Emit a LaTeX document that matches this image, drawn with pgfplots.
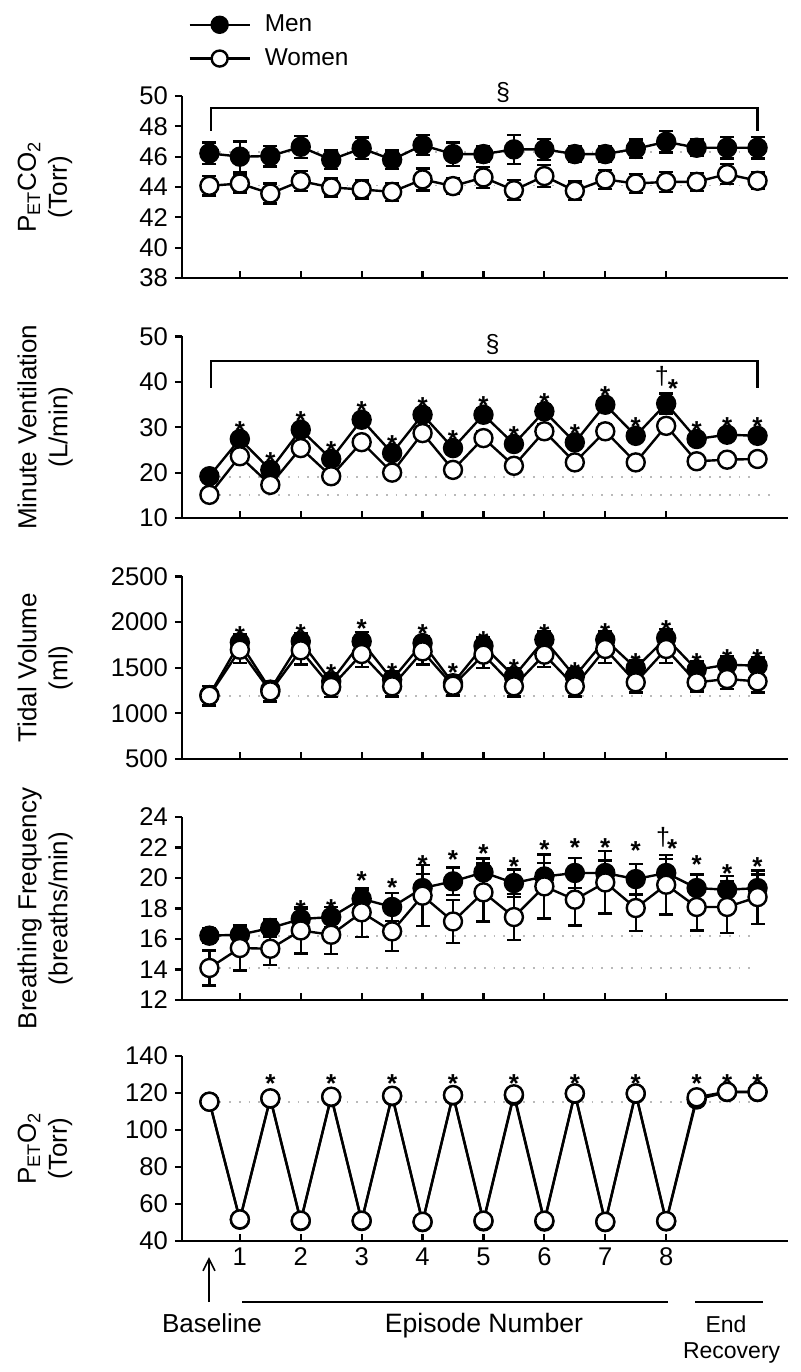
\documentclass[border=0pt]{standalone}
\usepackage{fontspec}
\setmainfont{Liberation Sans}
\usepackage{pgfplots}
\usepackage{pgfplotstable}
\pgfplotsset{compat=1.18}
\usetikzlibrary{arrows.meta}

\pgfplotstableread{
x m me w we
0.5 46.22 0.72 44.08 0.63
1 46.00 1.00 44.23 0.60
1.5 46.04 0.68 43.57 0.66
2 46.65 0.72 44.39 0.66
2.5 45.80 0.60 43.97 0.60
3 46.55 0.72 43.84 0.60
3.5 45.80 0.60 43.68 0.60
4 46.76 0.66 44.50 0.72
4.5 46.17 0.77 44.06 0.50
5 46.17 0.50 44.63 0.68
5.5 46.48 0.96 43.79 0.66
6 46.48 0.68 44.72 0.72
6.5 46.17 0.50 43.75 0.60
7 46.17 0.50 44.50 0.63
7.5 46.52 0.60 44.23 0.64
8 46.98 0.70 44.34 0.66
8.5 46.59 0.55 44.34 0.60
9 46.59 0.70 44.85 0.66
9.5 46.59 0.70 44.41 0.55
}\petco

\pgfplotstableread{
x m me w we
0.5 19.20 1.0 15.10 1.0
1 27.40 1.3 23.60 1.3
1.5 20.60 1.2 17.30 1.2
2 29.45 1.3 25.40 1.3
2.5 23.00 1.2 19.20 1.0
3 31.65 1.4 26.70 1.4
3.5 24.30 1.2 20.00 1.0
4 32.75 1.5 28.70 1.5
4.5 25.40 1.2 20.60 1.0
5 32.75 1.5 27.60 1.5
5.5 26.30 1.2 21.50 1.0
6 33.50 1.5 29.10 1.5
6.5 26.65 1.2 22.25 1.0
7 34.95 1.5 29.10 1.5
7.5 28.10 1.2 22.25 1.0
8 35.20 2.2 30.30 1.5
8.5 27.40 1.2 22.50 1.0
9 28.35 1.2 22.85 1.0
9.5 28.10 1.2 23.00 1.0
}\vetab

\pgfplotstableread{
x m me w we
0.5 1200 100 1194 110
1 1777 90 1697 145
1.5 1260 90 1241 110
2 1788 90 1690 157
2.5 1350 90 1289 110
3 1788 100 1650 142
3.5 1369 90 1296 110
4 1770 80 1679 146
4.5 1330 90 1303 109
5 1740 90 1643 146
5.5 1405 90 1296 110
6 1807 90 1643 135
6.5 1405 90 1296 110
7 1807 90 1705 153
7.5 1497 90 1340 110
8 1825 100 1705 153
8.5 1478 90 1340 99
9 1533 90 1376 109
9.5 1522 90 1350 120
}\vttab

\pgfplotstableread{
x m me w we
0.5 16.22 0.50 14.10 1.16
1 16.28 0.60 15.41 1.47
1.5 16.72 0.55 15.36 1.05
2 17.31 0.70 16.56 1.50
2.5 17.44 0.66 16.28 1.25
3 18.64 0.60 17.75 1.60
3.5 18.10 0.90 16.50 1.30
4 19.34 0.92 18.84 2.00
4.5 19.78 0.90 17.15 1.40
5 20.37 0.90 19.06 1.90
5.5 19.67 0.90 17.44 1.50
6 20.10 0.90 19.45 2.10
6.5 20.33 1.00 18.58 1.70
7 20.33 0.83 19.71 2.05
7.5 19.93 1.00 18.03 1.50
8 20.33 0.90 19.56 1.96
8.5 19.34 0.90 18.10 1.54
9 19.23 0.90 18.10 1.70
9.5 19.34 0.90 18.75 1.75
}\brftab

\pgfplotstableread{
x m w
0.5 115.3 115.3
1 51.5 51.7
1.5 117.0 117.1
2 50.8 51.0
2.5 117.8 118.0
3 50.8 51.0
3.5 118.3 118.5
4 50.2 50.4
4.5 118.7 118.9
5 50.6 51.0
5.5 118.6 119.3
6 50.5 51.0
6.5 119.6 119.8
7 50.2 50.4
7.5 119.6 119.8
8 50.6 50.8
8.5 116.5 117.7
9 120.5 120.7
9.5 120.5 120.7
}\petotab

\tikzset{
  sym/.style={font=\fontsize{12.5}{14}\selectfont, inner sep=0pt},
  astx/.style={font=\fontsize{13}{14}\selectfont\bfseries, inner sep=0pt, anchor=base, yshift=-7.5pt},
}
\pgfplotsset{
  panel/.style={scale only axis, width=303pt, xmin=0.05, xmax=10, clip=false,
    axis lines=left, axis line style={-, line width=1.25pt, black},
    xtick={1,2,...,8}, xticklabels={},
    tick style={line width=1.1pt, black},
    major tick length=3.5pt,
    xtick align=inside, ytick align=outside,
    tick label style={font=\fontsize{12.8}{14}\selectfont},
    /pgf/number format/assume math mode=true,
    /pgf/number format/1000 sep={},
    ylabel style={at={(axis description cs:-0.226,0.5)}, anchor=center, align=center, font=\fontsize{13}{15.5}\selectfont},
  },
  men/.style={black, line width=1.2pt, mark=*, mark size=4.5pt, mark options={fill=black, solid},
    error bars/y dir=both, error bars/y explicit,
    error bars/error bar style={line width=1.1pt, solid},
    error bars/error mark options={rotate=90, mark size=3.5pt, line width=1.2pt}},
  women/.style={men, mark options={fill=white, solid}},
  refl/.style={forget plot, gray!55, line width=0.9pt, dash pattern=on 0.9pt off 4pt},
  stars/.style={forget plot, only marks, mark=text, text mark={\fontsize{13}{14}\selectfont\bfseries *},
    text mark style={base, y=-7.5pt}},
}

\begin{document}
\begin{tikzpicture}
\path (0,0) rectangle (400pt,-686pt);

% Panel 1
\begin{axis}[panel, at={(91pt,-139pt)}, anchor=south west, height=91pt,
  ymin=38, ymax=50, ytick={38,40,...,50},
  ylabel={P\textsubscript{ET}CO\textsubscript{2}\\(Torr)},
  legend style={at={(axis description cs:0.01,1.459)}, anchor=north west, draw=none, fill=none,
    font=\fontsize{12.2}{14}\selectfont, row sep=5pt, inner sep=0pt, nodes={inner sep=1pt},
    /tikz/every odd column/.append style={column sep=6pt}},
  legend cell align=left,
  legend image code/.code={\draw[mark repeat=2, mark phase=2, #1, mark size=4pt] plot coordinates {(0pt,0pt) (15pt,0pt) (30pt,0pt)};},
]
\addplot[refl] coordinates {(0.5,46.3) (9.5,46.3)};
\addplot[refl] coordinates {(0.5,44.1) (9.5,44.1)};
\addplot[men] table[x=x, y=m, y error=me] {\petco};
\addplot[women] table[x=x, y=w, y error=we] {\petco};
\legend{Men, Women}
\draw[line width=1.1pt] (axis cs:0.53,47.7) -- (axis cs:0.53,49.2) -- (axis cs:9.5,49.2) -- (axis cs:9.5,47.7);
\node[sym] at (axis cs:5.32,50.26) {§};
\end{axis}

% Panel 2
\begin{axis}[panel, at={(91pt,-259pt)}, anchor=south west, height=90.8pt,
  ymin=10, ymax=50, ytick={10,20,...,50},
  ylabel={Minute Ventilation\\(L/min)},
]
\addplot[refl] coordinates {(0.5,19) (9.5,19)};
\addplot[refl] coordinates {(0.5,15) (9.7,15)};
\addplot[men] table[x=x, y=m, y error=me] {\vetab};
\addplot[women] table[x=x, y=w, y error=we] {\vetab};
\addplot[stars] coordinates {(1,30.7) (1.5,23.7) (2,32.75) (2.5,26.3) (3,34.95) (3.5,27.6) (4,35.8) (4.5,28.6) (5,36.0) (5.5,29.6) (6,36.8) (6.5,29.95) (7,38.25) (7.5,31.4) (8.5,30.6) (9,31.5) (9.5,31.5)};
\node[astx] at (axis cs:8.11,39.87) {*};
\node[sym] at (axis cs:7.93,41.19) {†};
\draw[line width=1.1pt] (axis cs:0.53,38.7) -- (axis cs:0.53,44.5) -- (axis cs:9.5,44.5) -- (axis cs:9.5,38.7);
\node[sym] at (axis cs:5.15,48.2) {§};
\end{axis}

% Panel 3
\begin{axis}[panel, at={(91pt,-379.5pt)}, anchor=south west, height=91.3pt,
  ymin=500, ymax=2500, ytick={500,1000,...,2500},
  ylabel={Tidal Volume\\(ml)},
]
\addplot[refl] coordinates {(0.5,1194) (9.5,1194)};
\addplot[men, error bars/y dir=plus] table[x=x, y=m, y error=me] {\vttab};
\addplot[women, error bars/y dir=minus] table[x=x, y=w, y error=we] {\vttab};
\addplot[stars] coordinates {(1,1916) (2,1935) (2.5,1497) (3,1990) (3.5,1515) (4,1935) (4.5,1508) (5,1862) (5.5,1559) (6,1935) (6.5,1522) (7,1953) (7.5,1624) (8,1982) (8.5,1624) (9,1668) (9.5,1668)};
\end{axis}

% Panel 4
\begin{axis}[panel, at={(91pt,-500pt)}, anchor=south west, height=91.5pt,
  ymin=12, ymax=24, ytick={12,14,...,24},
  ylabel={Breathing Frequency\\(breaths/min)},
]
\addplot[refl] coordinates {(0.5,16.2) (9.5,16.2)};
\addplot[refl] coordinates {(0.5,14.1) (9.5,14.1)};
\addplot[men] table[x=x, y=m, y error=me] {\brftab};
\addplot[women] table[x=x, y=w, y error=we] {\brftab};
\addplot[stars] coordinates {(2,18.36) (2.5,18.4) (3,20.22) (3.5,19.78) (4,21.31) (4.5,21.64) (5,22.03) (5.5,21.15) (6,22.25) (6.5,22.4) (7,22.4) (7.5,22.18) (8.5,21.25) (9,20.66) (9.5,21.15)};
\node[astx] at (axis cs:8.1,22.3) {*};
\node[sym] at (axis cs:7.95,22.64) {†};
\end{axis}

% Panel 5
\begin{axis}[panel, at={(91pt,-620.5pt)}, anchor=south west, height=92.5pt,
  ymin=40, ymax=140, ytick={40,60,...,140},
  xticklabels={1,2,3,4,5,6,7,8},
  ylabel={P\textsubscript{ET}O\textsubscript{2}\\(Torr)},
]
\addplot[refl] coordinates {(0.5,115) (9.5,115)};
\addplot[men, error bars/y dir=none] table[x=x, y=m] {\petotab};
\addplot[women, error bars/y dir=none] table[x=x, y=w] {\petotab};
\addplot[stars] coordinates {(1.5,128.5) (2.5,128.5) (3.5,128.5) (4.5,128.5) (5.5,128.5) (6.5,128.5) (7.5,128.5) (8.5,128.5) (9,128.5) (9.5,128.5)};
\end{axis}

% bottom annotations
\draw[line width=0.8pt, -{Straight Barb[length=6pt, width=6pt]}] (104.5pt,-651pt) -- (104.5pt,-628.5pt);
\node[anchor=base, font=\fontsize{13}{15}\selectfont] at (106pt,-666pt) {Baseline};
\draw[line width=1.1pt] (121pt,-651pt) -- (334pt,-651pt);
\node[anchor=base, font=\fontsize{13.3}{15}\selectfont] at (242pt,-666pt) {Episode Number};
\draw[line width=1.1pt] (347.5pt,-651pt) -- (381.5pt,-651pt);
\node[anchor=base, font=\fontsize{11.5}{13}\selectfont] at (363pt,-666pt) {End};
\node[anchor=base, font=\fontsize{11.5}{13}\selectfont] at (365.8pt,-679.2pt) {Recovery};
\end{tikzpicture}
\end{document}
